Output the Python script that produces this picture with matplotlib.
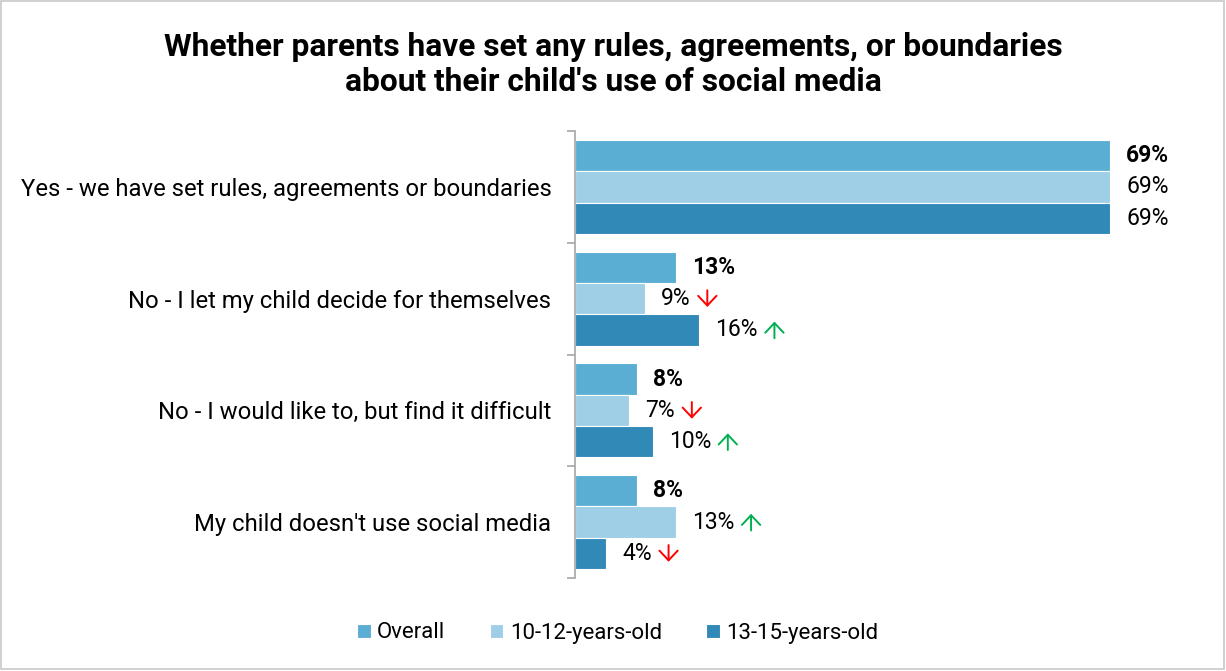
import numpy as np
import matplotlib.pyplot as plt
from matplotlib.patches import Rectangle
from matplotlib.text import OffsetFrom

plt.rcParams['font.family'] = ['Roboto', 'DejaVu Sans']

categories = ["Yes - we have set rules, agreements or boundaries",
              "No - I let my child decide for themselves",
              "No - I would like to, but find it difficult",
              "My child doesn't use social media"]
series_names = ["Overall", "10-12-years-old", "13-15-years-old"]
overall = [69, 13, 8, 8]
age_10_12 = [69, 9, 7, 13]
age_13_15 = [69, 16, 10, 4]
# significance vs overall: 1 = higher, -1 = lower, 0 = none
sig_10_12 = [0, -1, -1, 1]
sig_13_15 = [0, 1, 1, -1]

colors = ["#5BAED3", "#9FCFE6", "#3089B6"]
values = [overall, age_10_12, age_13_15]
sigs = [None, sig_10_12, sig_13_15]

fig = plt.figure(figsize=(12.26, 6.71), dpi=100)
ax = fig.add_axes([575/1226, 1 - 578/671, 620/1226, 447/671])

n = len(categories)
y = np.arange(n)
h = 0.28
for k in range(3):
    pos = y + (k - 1) * h
    ax.barh(pos, values[k], height=h, color=colors[k], edgecolor='white',
            linewidth=0.8, label=series_names[k])
    for i, v in enumerate(values[k]):
        weight = 'bold' if k == 0 else 'normal'
        t = ax.text(v + 2.1, pos[i], f"{v}%", va='center', ha='left',
                    fontsize=16.5, fontweight=weight, color='black')
        if sigs[k] is not None and sigs[k][i] != 0:
            up = sigs[k][i] > 0
            ref = OffsetFrom(t, (1, 0.5), unit='points')
            tip, tail = (6, -6) if up else (-6, 6)
            ax.annotate('', xy=(12, tip), xycoords=ref,
                        xytext=(12, tail), textcoords=ref,
                        arrowprops=dict(arrowstyle='->,head_length=0.35,head_width=0.33',
                                        mutation_scale=20, lw=1.4,
                                        color='#00B050' if up else '#FF0000',
                                        shrinkA=0, shrinkB=0))

ax.set_ylim(n - 0.5, -0.5)
ax.set_xlim(0, 80)
ax.set_yticks(y)
ax.set_yticklabels(categories, fontsize=17.2)
ax.tick_params(axis='y', which='major', length=0, pad=17)
ax.set_yticks(np.arange(n + 1) - 0.5, minor=True)
ax.tick_params(axis='y', which='minor', length=6, color='#A6A6A6', width=1.2)
ax.set_xticks([])
for s in ['top', 'right', 'bottom']:
    ax.spines[s].set_visible(False)
ax.spines['left'].set_color('#A6A6A6')
ax.spines['left'].set_linewidth(1.2)

fig.suptitle("Whether parents have set any rules, agreements, or boundaries\n"
             "about their child's use of social media",
             fontsize=22.8, fontweight='bold', y=0.952, linespacing=1.2)

ax.legend(loc='center', bbox_to_anchor=(0.504, 1 - 633/671), bbox_transform=fig.transFigure,
          ncol=3, frameon=False, fontsize=16, handlelength=0.6, handleheight=0.6,
          handletextpad=0.3, columnspacing=2.0)

fig.patches.append(Rectangle((0.001, 0.003), 0.997, 0.995, transform=fig.transFigure,
                             fill=False, edgecolor='#C8C8C8', linewidth=1.2))

fig.savefig('out.png', dpi=100)
